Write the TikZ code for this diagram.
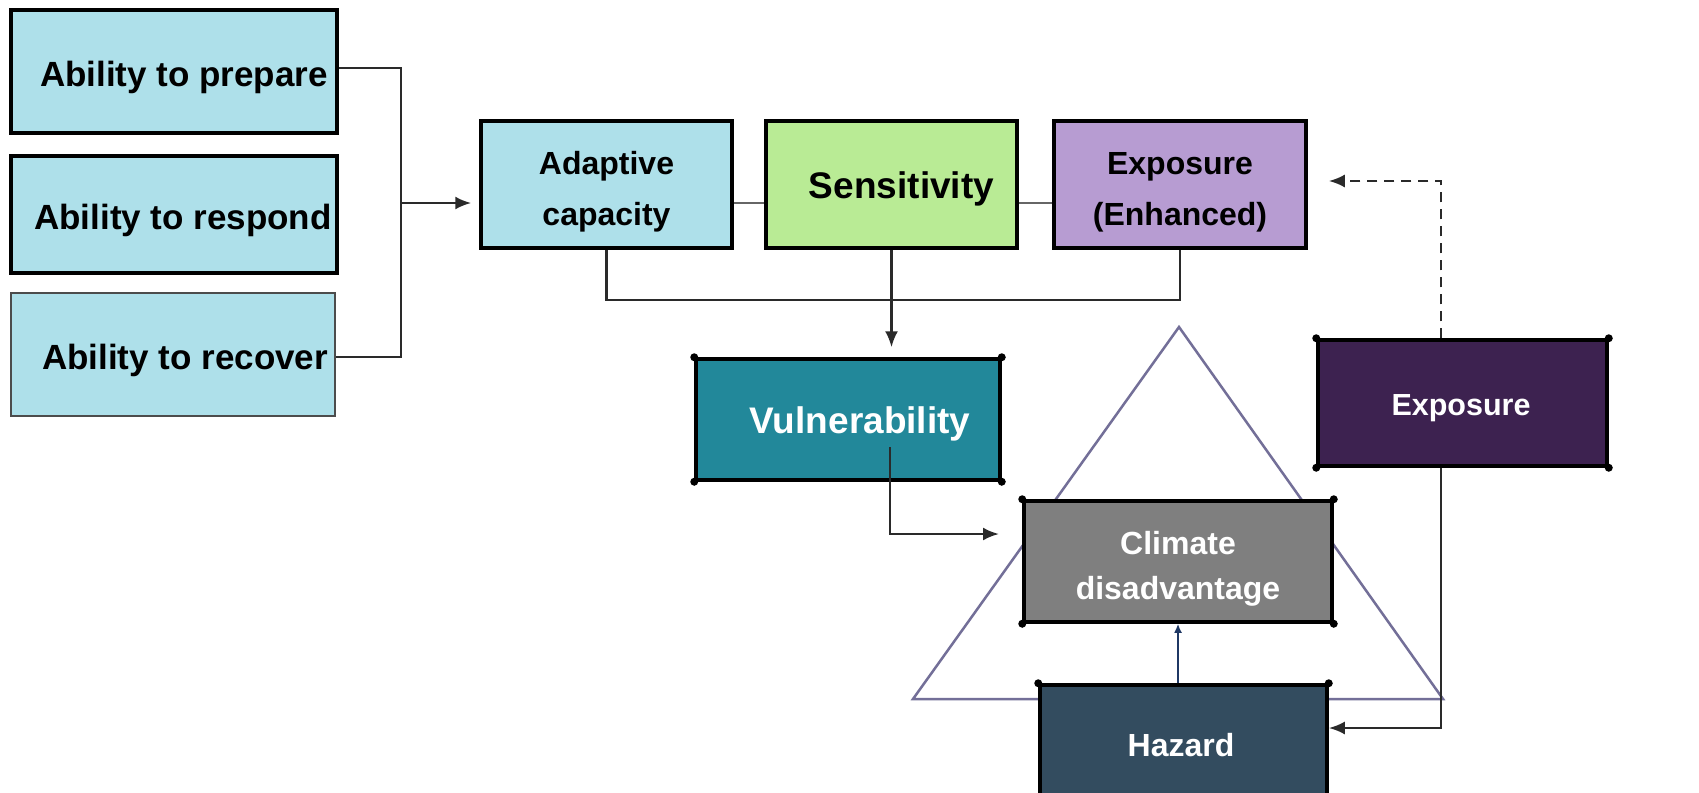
\documentclass[tikz,border=0pt]{standalone}
\usepackage{fontspec}
\setmainfont{Liberation Sans}
\usetikzlibrary{arrows.meta,calc}
\definecolor{lblue}{HTML}{AEE0EA}
\definecolor{lgreen}{HTML}{B9EB95}
\definecolor{lpurple}{HTML}{B79CD2}
\definecolor{teal2}{HTML}{22889A}
\definecolor{grey2}{HTML}{7F7F7F}
\definecolor{hazc}{HTML}{334C5F}
\definecolor{expc}{HTML}{3D2250}
\definecolor{tric}{HTML}{736F98}
\definecolor{conc}{HTML}{2A2A2A}
\definecolor{navy2}{HTML}{1F3864}
\tikzset{
  box/.style={draw=black,line width=3.5pt,inner sep=0pt},
  bigtxt/.style={align=center,font=\fontsize{35}{40}\selectfont\bfseries},
  midtxt/.style={align=center,font=\fontsize{32}{51}\selectfont\bfseries},
  conn/.style={draw=conc,line width=2.5pt},
  arr/.style={-{Latex[length=16pt,width=13pt]}},
  dotc/.style={circle,fill=black,inner sep=0pt,minimum size=8pt},
}
\begin{document}
\begin{tikzpicture}[x=1pt,y=-1pt]
\clip (0,0) rectangle (1699,792);
\fill[white] (0,0) rectangle (1699,792);
% triangle
\draw[tric,line width=2.5pt,line join=miter] (1179,327) -- (1443,699) -- (913,699) -- cycle;
% left boxes
\node[box,fill=lblue,minimum width=326pt,minimum height=123pt] (prep) at (174,71.5) {};
\node[box,fill=lblue,minimum width=326pt,minimum height=117pt] (resp) at (174,214.5) {};
\node[box,fill=lblue,draw=black!70,line width=2pt,minimum width=324pt,minimum height=123pt] (reco) at (173,354.5) {};
% middle row
\node[box,fill=lblue,minimum width=251pt,minimum height=127pt] (adap) at (606.5,184.5) {};
\node[box,fill=lgreen,minimum width=251pt,minimum height=127pt] (sens) at (891.5,184.5) {};
\node[box,fill=lpurple,minimum width=252pt,minimum height=127pt] (expe) at (1180,184.5) {};
% lower boxes
\node[box,fill=teal2,minimum width=304pt,minimum height=121pt] (vul) at (848,419.5) {};
\node[box,fill=grey2,minimum width=308pt,minimum height=121pt] (clim) at (1178,561.5) {};
\node[box,fill=hazc,minimum width=287pt,minimum height=121pt] (haz) at (1183.5,745.5) {};
\node[box,fill=expc,minimum width=289pt,minimum height=126pt] (expo) at (1462.5,403) {};
% texts
\node[bigtxt] (prept) at (184,77) {Ability to prepare};
\node[bigtxt] (respt) at (183,220) {Ability to respond};
\node[bigtxt] (recot) at (185,360) {Ability to recover};
\node[midtxt] (adapt) at (606.5,192) {Adaptive\\capacity};
\node[font=\fontsize{37}{44}\selectfont\bfseries] (senst) at (901.5,189) {Sensitivity};
\node[midtxt] (expet) at (1180,192) {Exposure\\(Enhanced)};
\node[font=\fontsize{37}{44}\selectfont\bfseries,text=white] (vult) at (860,424) {Vulnerability};
\node[align=center,font=\fontsize{32}{45.5}\selectfont\bfseries,text=white] (climt) at (1178,569) {Climate\\disadvantage};
\node[midtxt,text=white] (hazt) at (1181,745.5) {Hazard};
\node[font=\fontsize{30.5}{36}\selectfont\bfseries,text=white] (expot) at (1461,408.5) {Exposure};
% corner dots
\foreach \n in {vul,clim,expo}{
  \foreach \a in {north west,north east,south west,south east}{
    \node[dotc] at (\n.\a) {};
  }
}
\node[dotc] at (haz.north west) {};
\node[dotc] at (haz.north east) {};
% helper coordinates
\coordinate (jn) at (401,203);
\coordinate (py) at (0,68);
\coordinate (ry) at (0,357);
\coordinate (ly) at (0,203);
\coordinate (br) at (0,300);
\coordinate (vin) at (890,447);
\coordinate (vtip) at (999,534);
\coordinate (ex) at (1441,0);
\coordinate (hy) at (0,728);
\coordinate (dy) at (0,181);
% connectors
\draw[conn] (prep.east |- py) -- (jn |- py) |- (reco.east |- ry);
\draw[conn,arr,shorten >=8pt] (jn) -- (jn -| adap.west);
\draw[draw=black!60,line width=2.5pt] (adap.east |- ly) -- (sens.west |- ly);
\draw[draw=black!60,line width=2.5pt] (sens.east |- ly) -- (expe.west |- ly);
\draw[conn] (adap.south) |- (br -| expe.south) -- (expe.south);
\draw[conn,arr,shorten >=10pt] (sens.south) -- (sens.south |- vul.north);
\draw[conn,arr] (vin) |- (vtip);
\draw[navy2,line width=2pt,-{Latex[length=9pt,width=8pt]}] (haz.north -| clim.south) -- (clim.south);
\draw[conn,arr] (expo.south -| ex) |- (haz.east |- hy);
\draw[conn,arr,dash pattern=on 10pt off 7pt,shorten >=21pt] (expo.north -| ex) |- (expe.east |- dy);
\end{tikzpicture}
\end{document}
